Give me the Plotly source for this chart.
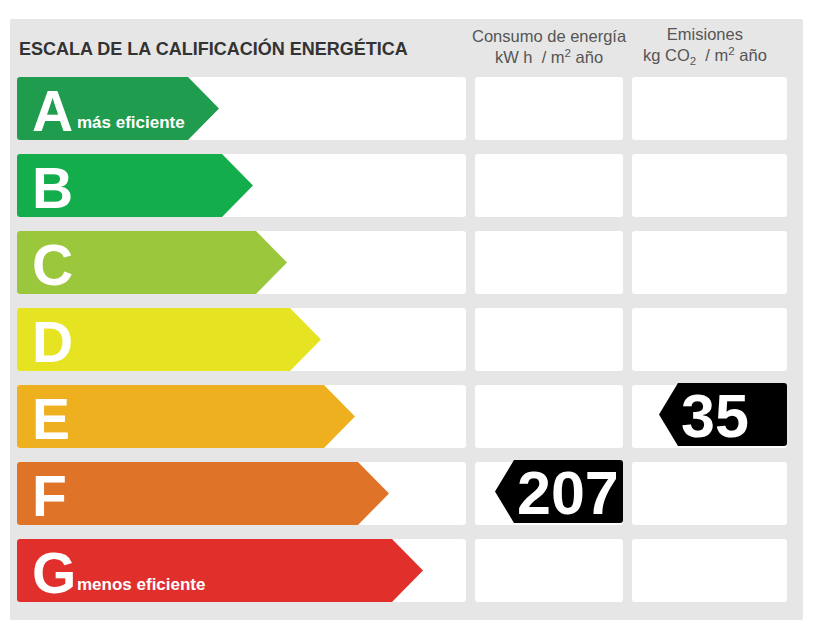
import plotly.graph_objects as go

# energy rating scale
ratings = ['A', 'B', 'C', 'D', 'E', 'F', 'G']
colors = ['#1f9c4d', '#14ad4c', '#9ac73c', '#e6e422', '#eeb01f', '#df7429', '#e12f2c']
notes = {'A': 'más eficiente', 'G': 'menos eficiente'}

# values shown in the tags (rating, value)
consumo = ('F', 207)
emisiones = ('E', 35)

title = 'ESCALA DE LA CALIFICACIÓN ENERGÉTICA'
col_titles = [
    'Consumo de energía<br>kW h  / m<sup>2</sup> año',
    'Emisiones<br>kg CO<sub>2</sub>  / m<sup>2</sup> año',
]

# geometry (pixels of the page; the page body has an 8px margin)
W, H = 840, 630
OFF = 8
panel = (10, 19, 803, 620)
row_top, row_step, row_h = 77, 77, 63
cols = [(17, 466), (475, 623), (632, 787)]
tip0, tip_step, taper = 219, 34, 31
tag_w, tag_point = 128, 19


def rrect(x0, y0, x1, y1, r=3):
    return (f'M{x0+r},{y0} L{x1-r},{y0} Q{x1},{y0} {x1},{y0+r} '
            f'L{x1},{y1-r} Q{x1},{y1} {x1-r},{y1} L{x0+r},{y1} '
            f'Q{x0},{y1} {x0},{y1-r} L{x0},{y0+r} Q{x0},{y0} {x0+r},{y0} Z')


def arrow(x0, y0, x1, y1, r=3):
    ym = (y0 + y1) / 2
    xb = x1 - taper
    return (f'M{x0+r},{y0} L{xb},{y0} L{x1},{ym} L{xb},{y1} L{x0+r},{y1} '
            f'Q{x0},{y1} {x0},{y1-r} L{x0},{y0+r} Q{x0},{y0} {x0+r},{y0} Z')


def tag(x0, y0, x1, y1, r=3):
    ym = (y0 + y1) / 2
    xb = x0 + tag_point
    return (f'M{x0},{ym} L{xb},{y0} L{x1-r},{y0} Q{x1},{y0} {x1},{y0+r} '
            f'L{x1},{y1-r} Q{x1},{y1} {x1-r},{y1} L{xb},{y1} Z')


shapes = []
annotations = []

shapes.append(dict(type='path', path=rrect(*panel, r=2), fillcolor='#e6e6e6', line_width=0))

for i, (r, c) in enumerate(zip(ratings, colors)):
    y0 = row_top + i * row_step
    y1 = y0 + row_h
    for cx0, cx1 in cols:
        shapes.append(dict(type='path', path=rrect(cx0, y0, cx1, y1), fillcolor='white', line_width=0))
    shapes.append(dict(type='path', path=arrow(cols[0][0], y0, tip0 + i * tip_step, y1),
                       fillcolor=c, line_width=0))
    annotations.append(dict(x=30, y=(y0 + y1) / 2 + 2, text=f'<b>{r}</b>', showarrow=False,
                            xanchor='left', yanchor='middle',
                            font=dict(family='Liberation Sans, Arial', size=57, color='white')))
    if r in notes:
        annotations.append(dict(x=75, y=y1 - 6, text=f'<b>{notes[r]}</b>', showarrow=False,
                                xanchor='left', yanchor='bottom',
                                font=dict(family='Liberation Sans, Arial', size=17, color='white')))

for col, (r, v) in zip(cols[1:], [consumo, emisiones]):
    i = ratings.index(r)
    y0 = row_top + i * row_step - 2
    y1 = y0 + row_h
    x1 = col[1]
    x0 = x1 - tag_w
    shapes.append(dict(type='path', path=tag(x0, y0, x1, y1), fillcolor='black', line_width=0))
    annotations.append(dict(x=x0 + 20, y=(y0 + y1) / 2 + 1, text=f'<b>{v}</b>', showarrow=False,
                            xanchor='left', yanchor='middle',
                            font=dict(family='Liberation Sans, Arial', size=61, color='white')))

annotations.append(dict(x=17, y=48, text=f'<b>{title}</b>', showarrow=False,
                        xanchor='left', yanchor='middle',
                        font=dict(family='Liberation Sans, Arial', size=18, color='#333333')))

for cx, t in zip([549, 705], col_titles):
    annotations.append(dict(x=cx, y=46, text=t, showarrow=False,
                            xanchor='center', yanchor='middle',
                            font=dict(family='Liberation Sans, Arial', size=16.5, color='#555555')))

fig = go.Figure()
fig.update_layout(
    {
        "width": W,
        "height": H,
        "margin": dict(l=0, r=0, t=0, b=0),
        "paper_bgcolor": "white",
        "plot_bgcolor": "white",
        "xaxis": dict(range=[OFF, W + OFF], visible=False, fixedrange=True),
        "yaxis": dict(range=[H + OFF, OFF], visible=False, fixedrange=True),
        "shapes": shapes,
        "annotations": annotations,
        "showlegend": False,
    }
)
fig.write_html("out.html")
